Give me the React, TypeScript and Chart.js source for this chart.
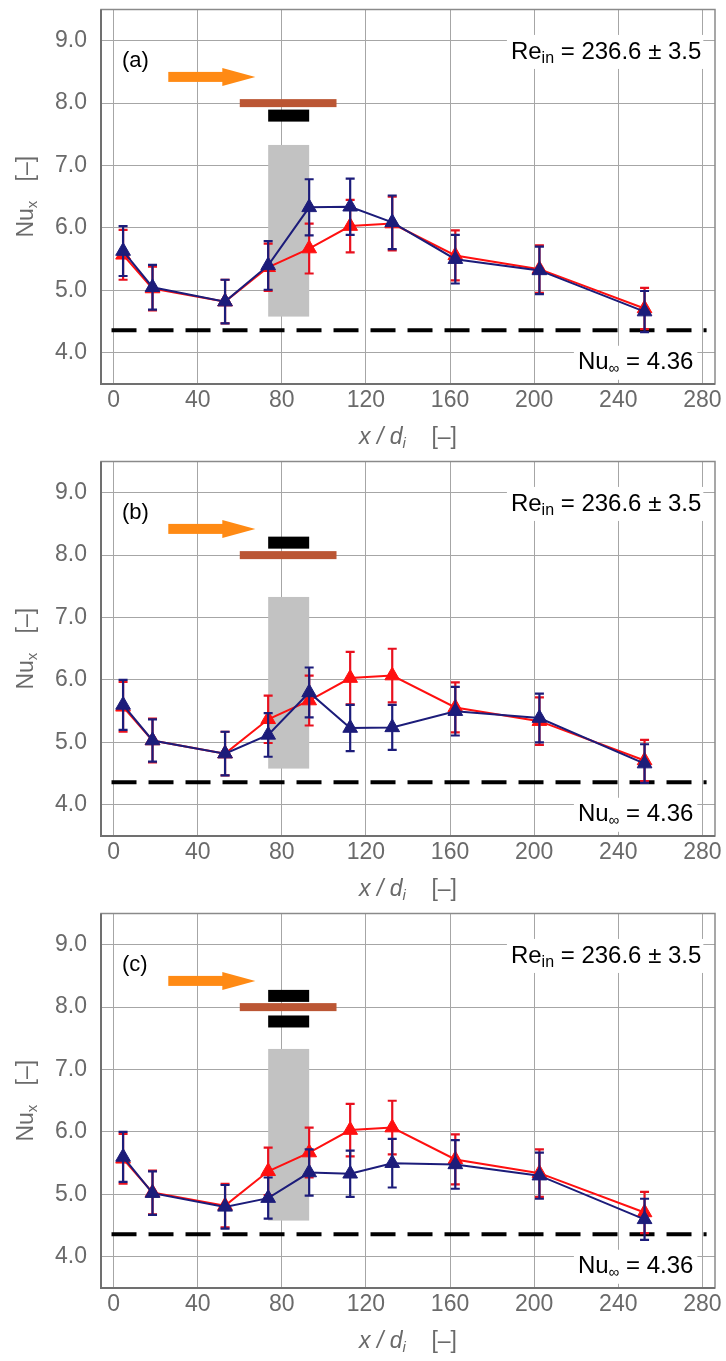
import React, { useEffect, useRef } from 'react';
import { Chart, registerables } from 'chart.js';
Chart.register(...registerables);

// ---------- data ----------
const xPositions = [4.5, 18.5, 53, 73.5, 93, 112.5, 132.5, 162.5, 202.5, 252.5];
const refNu = [5.57, 5.03, 4.82, 5.37, 5.67, 6.03, 6.07, 5.56, 5.34, 4.71];
const refErr = [0.4, 0.35, 0.35, 0.38, 0.4, 0.42, 0.43, 0.4, 0.38, 0.33];
const nuA = [5.63, 5.05, 4.82, 5.4, 6.33, 6.34, 6.09, 5.5, 5.32, 4.66];
const errA = [0.4, 0.36, 0.35, 0.39, 0.45, 0.45, 0.43, 0.39, 0.38, 0.33];
const nuB = [5.6, 5.03, 4.82, 5.12, 5.8, 5.23, 5.24, 5.5, 5.39, 4.66];
const errB = [0.4, 0.34, 0.35, 0.35, 0.4, 0.37, 0.36, 0.39, 0.39, 0.31];
const nuC = [5.6, 5.02, 4.8, 4.94, 5.35, 5.33, 5.5, 5.48, 5.3, 4.6];
const errC = [0.4, 0.35, 0.35, 0.33, 0.37, 0.37, 0.39, 0.39, 0.37, 0.33];

const xTicks = [0, 40, 80, 120, 160, 200, 240, 280];
const yTicks = [4, 5, 6, 7, 8, 9];
const panelLabels = ['(a)', '(b)', '(c)'];
const blackBarLevels = [[7.8], [8.2], [8.18, 7.77]];
const testSection = [73.5, 93];
const testBand = [4.58, 7.33];
const heaterSpan = [60, 106];
const heaterLevel = 8.0;
const arrowSpan = [26, 51.7, 67.4];
const arrowLevel = 8.42;
const nuInf = 4.36;
const nuInfSpan = [-1, 282];
const reText = ' = 236.6 ± 3.5';
const nuInfText = ' = 4.36';

const blueSeries = [nuA, nuB, nuC];
const blueErrors = [errA, errB, errC];

// ---------- styles ----------
const FONT = '"Liberation Sans", Arial, sans-serif';
const BLUE = '#1c1c7a';
const RED = '#ff1010';
const RED_ERR = '#e8101e';
const GRID = '#a6a6a6';
const TICK = '#6a6a6a';
const W = 726;
const H = 452;

const errorsByIndex = (panel: number) => [blueErrors[panel], refErr];

function drawErrorBars(ctx: CanvasRenderingContext2D, chart: any, dsIndex: number, panel: number) {
  const meta = chart.getDatasetMeta(dsIndex);
  const ds = chart.data.datasets[dsIndex];
  const errs = errorsByIndex(panel)[dsIndex];
  const yS = chart.scales.y;
  ctx.save();
  ctx.strokeStyle = dsIndex === 0 ? BLUE : RED_ERR;
  ctx.lineWidth = 2.2;
  meta.data.forEach((pt: any, i: number) => {
    const v = ds.data[i].y;
    const px = pt.x;
    const top = yS.getPixelForValue(v + errs[i]);
    const bot = yS.getPixelForValue(v - errs[i]);
    ctx.beginPath();
    ctx.moveTo(px, top);
    ctx.lineTo(px, bot);
    ctx.moveTo(px - 4.5, top);
    ctx.lineTo(px + 4.5, top);
    ctx.moveTo(px - 4.5, bot);
    ctx.lineTo(px + 4.5, bot);
    ctx.stroke();
  });
  ctx.restore();
}

function drawSubText(ctx: CanvasRenderingContext2D, parts: { t: string; size: number; italic?: boolean; dy?: number }[], x: number, y: number, align: 'left' | 'center' | 'right', color: string) {
  const fontOf = (p: any) => `${p.italic ? 'italic ' : ''}${p.size}px ${FONT}`;
  let total = 0;
  const widths = parts.map((p) => {
    ctx.font = fontOf(p);
    const w = ctx.measureText(p.t).width;
    total += w;
    return w;
  });
  let cx = align === 'left' ? x : align === 'center' ? x - total / 2 : x - total;
  ctx.fillStyle = color;
  ctx.textBaseline = 'middle';
  ctx.textAlign = 'left';
  parts.forEach((p, i) => {
    ctx.font = fontOf(p);
    ctx.fillText(p.t, cx, y + (p.dy || 0));
    cx += widths[i];
  });
  return total;
}

const annotPlugin = {
  id: 'annot',
  beforeDatasetsDraw(chart: any) {
    const panel = chart.options.plugins.annot.panel;
    const { ctx, chartArea: ca } = chart;
    const xS = chart.scales.x;
    const yS = chart.scales.y;
    ctx.save();
    ctx.beginPath();
    ctx.rect(ca.left, ca.top, ca.right - ca.left, ca.bottom - ca.top);
    ctx.clip();
    // grey test section band
    const gx0 = xS.getPixelForValue(testSection[0]);
    const gx1 = xS.getPixelForValue(testSection[1]);
    const gy0 = yS.getPixelForValue(testBand[1]);
    const gy1 = yS.getPixelForValue(testBand[0]);
    ctx.fillStyle = '#c2c2c2';
    ctx.fillRect(gx0, gy0, gx1 - gx0, gy1 - gy0);
    // dashed Nu_inf line
    ctx.strokeStyle = '#000';
    ctx.lineWidth = 4;
    ctx.setLineDash([25, 12]);
    ctx.beginPath();
    const dy = yS.getPixelForValue(nuInf);
    ctx.moveTo(xS.getPixelForValue(nuInfSpan[0]), dy);
    ctx.lineTo(xS.getPixelForValue(nuInfSpan[1]), dy);
    ctx.stroke();
    ctx.setLineDash([]);
    // orange arrow
    const ay = yS.getPixelForValue(arrowLevel);
    const a0 = xS.getPixelForValue(arrowSpan[0]);
    const a1 = xS.getPixelForValue(arrowSpan[1]);
    const a2 = xS.getPixelForValue(arrowSpan[2]);
    ctx.fillStyle = '#ff8a14';
    ctx.fillRect(a0, ay - 5, a1 - a0 + 1, 10);
    ctx.beginPath();
    ctx.moveTo(a1, ay - 9);
    ctx.lineTo(a2, ay);
    ctx.lineTo(a1, ay + 9);
    ctx.closePath();
    ctx.fill();
    // heater (brown bar)
    const hy = yS.getPixelForValue(heaterLevel);
    const h0 = xS.getPixelForValue(heaterSpan[0]);
    const h1 = xS.getPixelForValue(heaterSpan[1]);
    ctx.fillStyle = '#bb5634';
    ctx.fillRect(h0, hy - 4, h1 - h0, 8);
    // black bars
    ctx.fillStyle = '#000';
    blackBarLevels[panel].forEach((lv) => {
      const by = yS.getPixelForValue(lv);
      ctx.fillRect(gx0, by - 6, gx1 - gx0, 12);
    });
    ctx.restore();
  },
  beforeDatasetDraw(chart: any, args: any) {
    const panel = chart.options.plugins.annot.panel;
    drawErrorBars(chart.ctx, chart, args.index, panel);
  },
  afterDatasetsDraw(chart: any) {
    const panel = chart.options.plugins.annot.panel;
    const { ctx, chartArea: ca } = chart;
    const xS = chart.scales.x;
    const yS = chart.scales.y;
    ctx.save();
    // panel label
    drawSubText(ctx, [{ t: panelLabels[panel], size: 22 }], xS.getPixelForValue(4), yS.getPixelForValue(8.68), 'left', '#000');
    // Re label with white box
    const reParts = [
      { t: 'Re', size: 24 },
      { t: 'in', size: 16, dy: 7 },
      { t: reText, size: 24 },
    ];
    const rx = xS.getPixelForValue(279.5);
    const ry = yS.getPixelForValue(8.82);
    let rw = 0;
    reParts.forEach((p) => { ctx.font = `${p.size}px ${FONT}`; rw += ctx.measureText(p.t).width; });
    ctx.fillStyle = '#fff';
    ctx.fillRect(rx - rw - 4, ry - 17, rw + 6, 34);
    drawSubText(ctx, reParts, rx, ry, 'right', '#000');
    // Nu_inf label with white box
    const nParts = [
      { t: 'Nu', size: 24 },
      { t: '∞', size: 15, dy: 6 },
      { t: nuInfText, size: 24 },
    ];
    const nx = xS.getPixelForValue(275.7);
    const ny = yS.getPixelForValue(3.84);
    let nw = 0;
    nParts.forEach((p) => { ctx.font = `${p.size}px ${FONT}`; nw += ctx.measureText(p.t).width; });
    ctx.fillStyle = '#fff';
    ctx.fillRect(nx - nw - 4, ny - 17, nw + 8, 34);
    drawSubText(ctx, nParts, nx, ny, 'right', '#000');
    // frame
    ctx.strokeStyle = '#8a8a8a';
    ctx.lineWidth = 1.5;
    ctx.strokeRect(ca.left, ca.top, ca.right - ca.left, ca.bottom - ca.top);
    ctx.strokeStyle = '#707070';
    ctx.lineWidth = 2;
    ctx.beginPath();
    ctx.moveTo(ca.left, ca.top);
    ctx.lineTo(ca.left, ca.bottom);
    ctx.lineTo(ca.right, ca.bottom);
    ctx.stroke();
    // x axis title
    const midX = (ca.left + ca.right) / 2;
    drawSubText(ctx, [
      { t: 'x / d', size: 23, italic: true },
      { t: 'i', size: 15, italic: true, dy: 6 },
      { t: '    [–]', size: 23 },
    ], midX, ca.bottom + 54, 'center', TICK);
    // y axis title
    ctx.translate(27, (ca.top + ca.bottom) / 2);
    ctx.rotate(-Math.PI / 2);
    drawSubText(ctx, [
      { t: 'Nu', size: 23 },
      { t: 'x', size: 15, dy: 6 },
      { t: '   [–]', size: 23 },
    ], 0, 0, 'center', TICK);
    ctx.restore();
  },
};

function Panel({ panel }: { panel: number }) {
  const ref = useRef<HTMLCanvasElement>(null);
  useEffect(() => {
    const canvas = ref.current;
    if (!canvas) return;
    const chart = new Chart(canvas, {
      type: 'scatter',
      data: {
        datasets: [
          {
            label: 'blue',
            data: xPositions.map((x, i) => ({ x, y: blueSeries[panel][i] })),
            showLine: true,
            borderColor: BLUE,
            backgroundColor: BLUE,
            borderWidth: 2,
            pointStyle: 'triangle',
            pointRadius: 8.5,
            pointBorderWidth: 1,
            pointBackgroundColor: BLUE,
            pointBorderColor: BLUE,
            order: 0,
          },
          {
            label: 'red',
            data: xPositions.map((x, i) => ({ x, y: refNu[i] })),
            showLine: true,
            borderColor: RED,
            backgroundColor: RED,
            borderWidth: 2,
            pointStyle: 'triangle',
            pointRadius: 8.5,
            pointBorderWidth: 1,
            pointBackgroundColor: RED,
            pointBorderColor: RED,
            order: 1,
          },
        ],
      },
      options: {
        animation: false,
        responsive: false,
        devicePixelRatio: 1,
        layout: { padding: { left: 0, right: 11, top: 6, bottom: 0 } },
        plugins: {
          legend: { display: false },
          tooltip: { enabled: false },
          annot: { panel },
        } as any,
        scales: {
          x: {
            type: 'linear',
            min: -6,
            max: 286,
            afterBuildTicks: (s: any) => { s.ticks = xTicks.map((v) => ({ value: v })); },
            afterFit: (s: any) => { s.height = 68; s.paddingLeft = 0; s.paddingRight = 0; },
            grid: { color: GRID, lineWidth: 1, drawTicks: false },
            border: { display: false },
            ticks: { color: TICK, font: { family: FONT, size: 23 }, padding: 3, maxRotation: 0, autoSkip: false },
          },
          y: {
            type: 'linear',
            min: 3.5,
            max: 9.5,
            afterBuildTicks: (s: any) => { s.ticks = yTicks.map((v) => ({ value: v })); },
            afterFit: (s: any) => { s.width = 101; s.paddingTop = 0; s.paddingBottom = 0; },
            grid: { color: GRID, lineWidth: 1, drawTicks: false },
            border: { display: false },
            ticks: {
              color: TICK,
              font: { family: FONT, size: 23 },
              padding: 14,
              callback: (v: any) => Number(v).toFixed(1),
            },
          },
        },
      },
      plugins: [annotPlugin as any],
    });
    return () => chart.destroy();
  }, [panel]);
  return (
    <div style={{ width: W, height: H }}>
      <canvas ref={ref} width={W} height={H} style={{ display: 'block' }} />
    </div>
  );
}

export default function App() {
  return (
    <div style={{ position: 'absolute', left: 0, top: 0, width: W, background: '#fff' }}>
      <Panel panel={0} />
      <Panel panel={1} />
      <Panel panel={2} />
    </div>
  );
}
